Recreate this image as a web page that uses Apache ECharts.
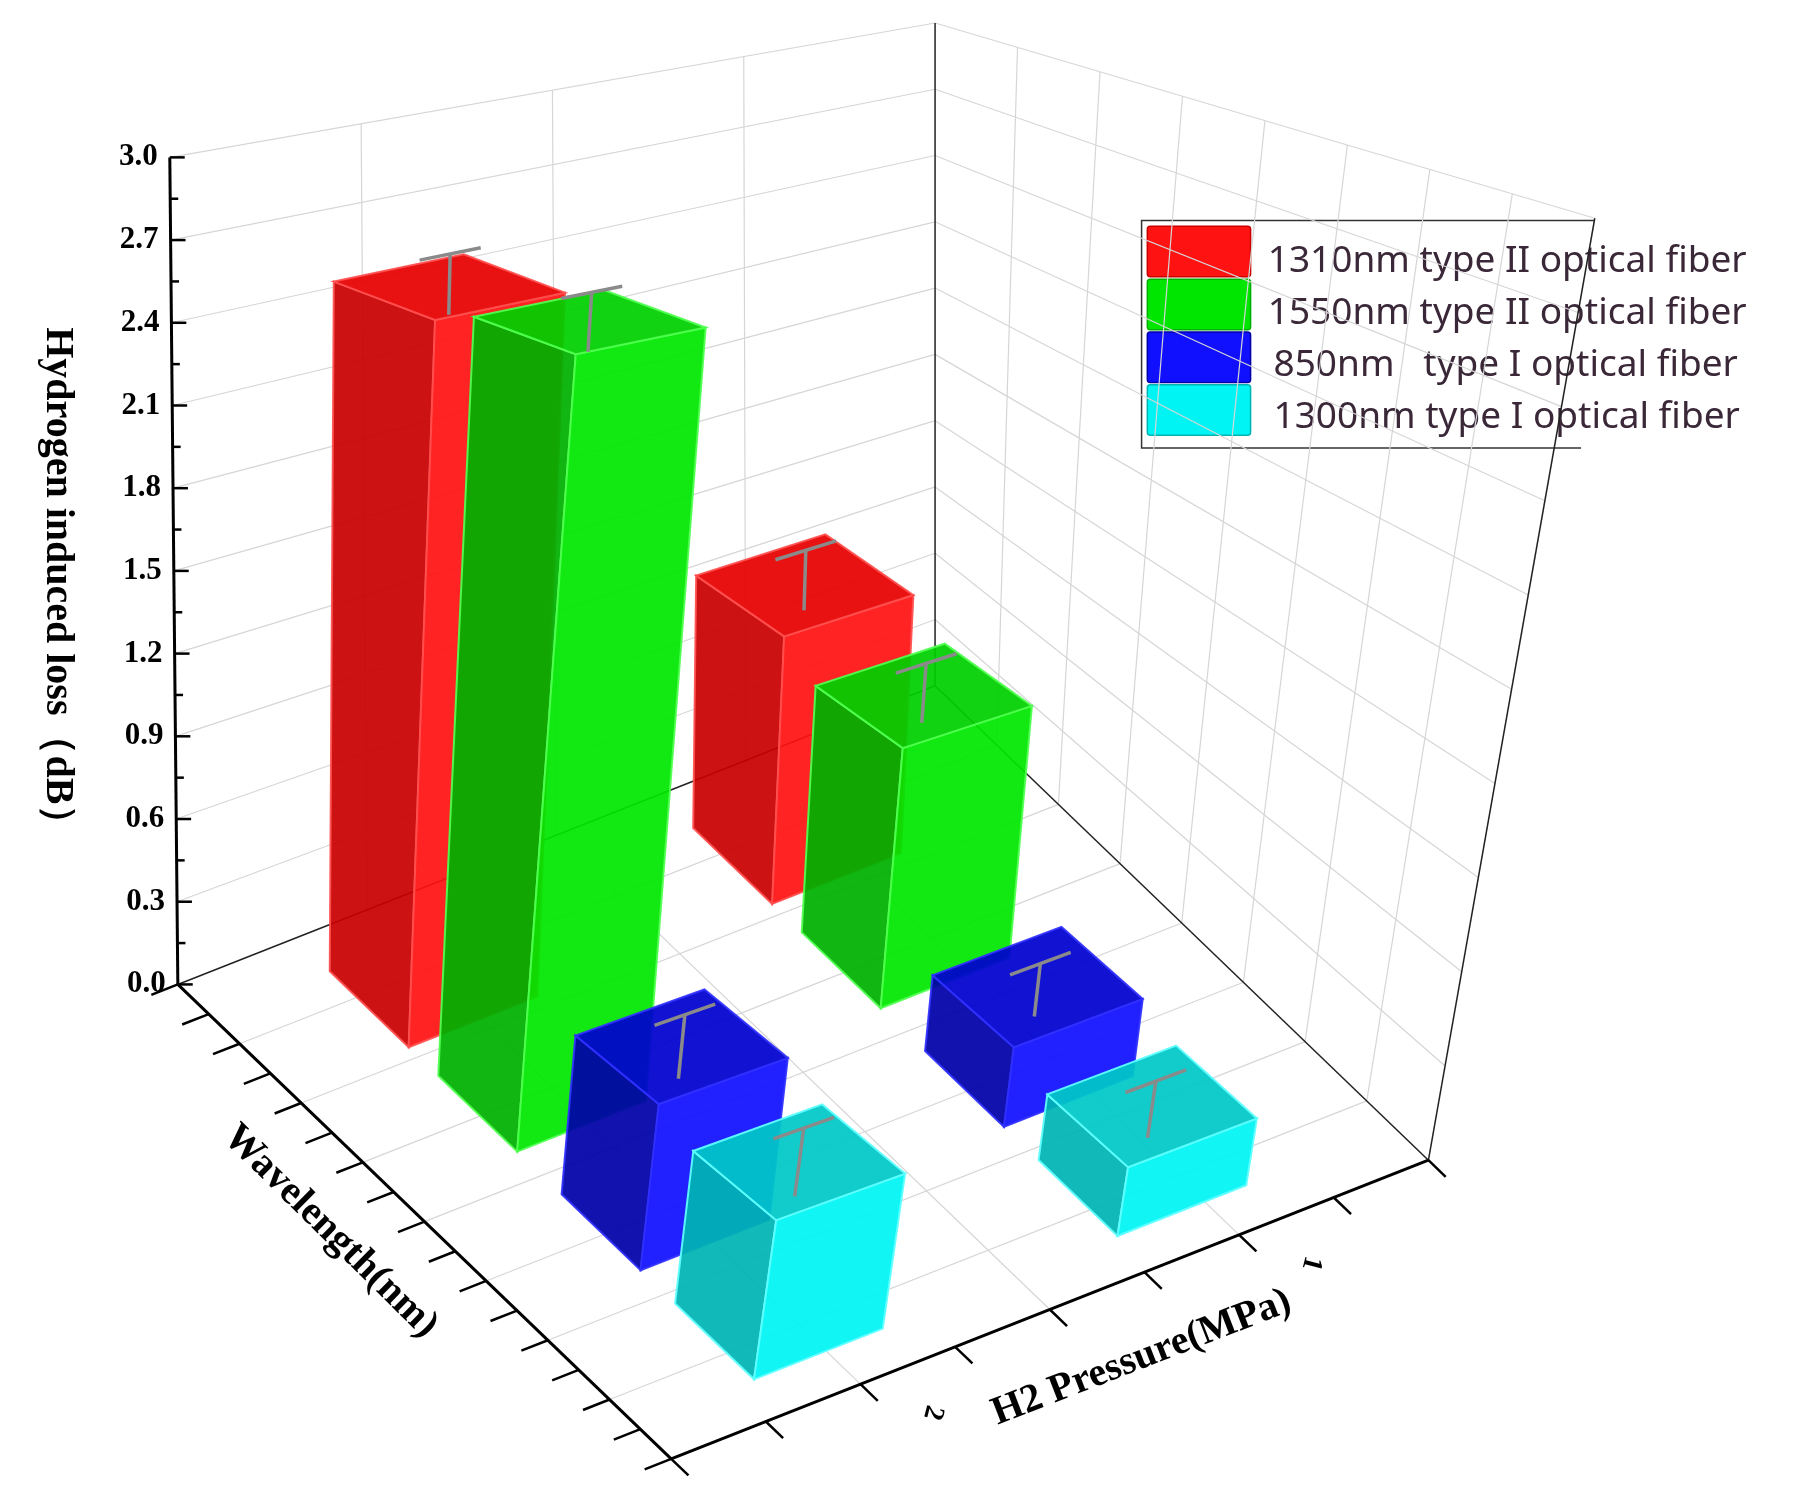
<!DOCTYPE html>
<html lang="en">
<head>
    <meta charset="UTF-8">
    <title>Hydrogen induced loss</title>
    <script src="https://cdn.jsdelivr.net/npm/echarts@6/dist/echarts.min.js"></script>
</head>
<body style="margin:0;background:#fff">
<div style="width:1799px;height:1491px" id="picture"></div>
<script>
    // data
    var fibers = ['1310nm type II optical fiber', '1550nm type II optical fiber', '850nm   type I optical fiber', '1300nm type I optical fiber'];
    var pressures = ['2', '1'];
    var loss2MPa = [2.52, 2.58, 0.50, 0.45];
    var loss1MPa = [1.02, 0.92, 0.26, 0.21];
    var err2MPa = [0.12, 0.10, 0.10, 0.10];
    var err1MPa = [0.14, 0.12, 0.08, 0.08];
    var yTicks = ['0.0', '0.3', '0.6', '0.9', '1.2', '1.5', '1.8', '2.1', '2.4', '2.7', '3.0'];

    // drawing space (reference pixel space) and box corners
    var W = 1568, H = 1298;
    var sx = 1799 / W, sy = 1491 / H;
    var floorA = [155, 857], floorB = [815, 597], floorC = [1245, 1010], floorD = [585, 1270];
    var topA = [148, 137], topB = [815, 20], topC = [1390, 190], topD = [723, 307];
    var uPos = [0.15, 0.37, 0.62, 0.85];
    var vPos = [0.24, 0.72];
    var colors = [
        {side: '#c80000', front: '#ff1212', top: '#e60000', edge: '#ff5050'},
        {side: '#00b000', front: '#00e600', top: '#00d000', edge: '#50ff50'},
        {side: '#0000a8', front: '#1010ff', top: '#0000d0', edge: '#3030ff'},
        {side: '#00b4b4', front: '#00f4f4', top: '#00c8c8', edge: '#60ffff'}
    ];

    function bil(P, u, v) {
        return [
            P[0][0] * (1 - u) * (1 - v) + P[1][0] * (1 - u) * v + P[2][0] * u * v + P[3][0] * u * (1 - v),
            P[0][1] * (1 - u) * (1 - v) + P[1][1] * (1 - u) * v + P[2][1] * u * v + P[3][1] * u * (1 - v)
        ];
    }
    function proj(u, v, w) {
        var f = bil([floorA, floorB, floorC, floorD], u, v);
        var t = bil([topA, topB, topC, topD], u, v);
        return [f[0] + (t[0] - f[0]) * w / 3, f[1] + (t[1] - f[1]) * w / 3];
    }

    var barData = [];
    for (var p = 0; p < pressures.length; p++) {
        for (var c = 0; c < fibers.length; c++) {
            var vals = p === 0 ? loss2MPa : loss1MPa;
            var errs = p === 0 ? err2MPa : err1MPa;
            barData.push([c, p, vals[c], errs[c]]);
        }
    }
    barData.sort(function (a, b) {
        return (uPos[a[0]] - vPos[a[1]]) - (uPos[b[0]] - vPos[b[1]]);
    });

    function line(api, a, b, color, width) {
        var p1 = api.coord(a), p2 = api.coord(b);
        return {type: 'line', shape: {x1: p1[0], y1: p1[1], x2: p2[0], y2: p2[1]},
            style: {stroke: color, lineWidth: width}};
    }

    function renderFrame(params, api) {
        var ch = [];
        var g = '#d6d6d6';
        var k;
        // left wall u = 0
        for (k = 1; k < 4; k++) ch.push(line(api, proj(0, k / 4, 0), proj(0, k / 4, 3), g, 1.2));
        for (k = 1; k <= 10; k++) ch.push(line(api, proj(0, 0, k * 0.3), proj(0, 1, k * 0.3), g, 1.2));
        // right wall v = 1
        for (k = 1; k < 8; k++) ch.push(line(api, proj(k / 8, 1, 0), proj(k / 8, 1, 3), g, 1.2));
        for (k = 1; k <= 10; k++) ch.push(line(api, proj(0, 1, k * 0.3), proj(1, 1, k * 0.3), g, 1.2));
        // floor
        for (k = 1; k < 8; k++) ch.push(line(api, proj(k / 8, 0, 0), proj(k / 8, 1, 0), g, 1.2));
        for (k = 1; k < 4; k++) ch.push(line(api, proj(0, k / 4, 0), proj(1, k / 4, 0), g, 1.2));
        // box edges
        ch.push(line(api, proj(0, 0, 0), proj(0, 1, 0), '#222', 1.5));
        ch.push(line(api, proj(0, 1, 0), proj(1, 1, 0), '#222', 1.5));
        ch.push(line(api, proj(0, 1, 0), proj(0, 1, 3), '#222', 1.5));
        ch.push(line(api, proj(1, 1, 0), proj(1, 1, 3), '#222', 1.5));
        // main axes
        ch.push(line(api, proj(0, 0, 0), proj(0, 0, 3), '#000', 3));
        ch.push(line(api, proj(0, 0, 0), proj(1, 0, 0), '#000', 3));
        ch.push(line(api, proj(1, 0, 0), proj(1, 1, 0), '#000', 3));
        // vertical ticks
        for (k = 0; k <= 20; k++) {
            var a = proj(0, 0, k * 0.15);
            ch.push(line(api, a, [a[0] + (k % 2 ? 7 : 13), a[1]], '#000', 2.5));
        }
        for (k = 0; k < yTicks.length; k++) {
            var q = api.coord(proj(0, 0, k * 0.3));
            ch.push({type: 'text', x: q[0] - 12, y: q[1], style: {text: yTicks[k], align: 'right', verticalAlign: 'middle',
                font: 'bold 31px "Liberation Serif"', fill: '#000'}});
        }
        // wavelength ticks
        for (k = 0; k <= 16; k++) ch.push(line(api, proj(k / 16, 0, 0), proj(k / 16, -0.035, 0), '#000', 2.5));
        // pressure ticks
        for (k = 0; k <= 8; k++) ch.push(line(api, proj(1, k / 8, 0), proj(1.035, k / 8, 0), '#000', 2.5));
        for (k = 0; k < pressures.length; k++) {
            var t = api.coord(proj(1.085, k === 0 ? 0.29 : 0.79, 0));
            ch.push({type: 'text', x: t[0], y: t[1], rotation: -Math.PI * 0.58,
                style: {text: pressures[k], align: 'center', verticalAlign: 'middle', font: 'bold 28px "Liberation Serif"', fill: '#000'}});
        }
        return {type: 'group', children: ch};
    }

    function renderBar(params, api) {
        var c = api.value(0), p = api.value(1), h = api.value(2), e = api.value(3);
        var u0 = uPos[c] - 0.08, u1 = uPos[c] + 0.08, v0 = vPos[p] - 0.085, v1 = vPos[p] + 0.085;
        var col = colors[c];
        function poly(pts, fill) {
            return {type: 'polygon', shape: {points: pts.map(function (x) { return api.coord(proj(x[0], x[1], x[2])); })},
                style: {fill: fill, stroke: col.edge, lineWidth: 2, opacity: 0.93}};
        }
        var uc = uPos[c], vc = vPos[p];
        return {type: 'group', children: [
            poly([[u0, v0, 0], [u1, v0, 0], [u1, v0, h], [u0, v0, h]], col.side),
            poly([[u1, v0, 0], [u1, v1, 0], [u1, v1, h], [u1, v0, h]], col.front),
            poly([[u0, v0, h], [u1, v0, h], [u1, v1, h], [u0, v1, h]], col.top),
            line(api, proj(uc, vc, h - 0.1), proj(uc, vc, h + e), '#8a8a8a', 3.5),
            line(api, proj(uc, vc - 0.04, h + e), proj(uc, vc + 0.04, h + e), '#8a8a8a', 3.5)
        ]};
    }

    var legendItems = [];
    for (var i = 0; i < fibers.length; i++) {
        legendItems.push({type: 'rect', shape: {x: 1000 * sx, y: (197 + i * 46) * sy, width: 90 * sx, height: 44 * sy, r: 3},
            style: {fill: colors[i].front, stroke: colors[i].side, lineWidth: 1.5}});
        legendItems.push({type: 'text', x: (i === 2 || i === 3 ? 1110 : 1105) * sx, y: (228 + i * 45) * sy,
            style: {text: fibers[i], verticalAlign: 'middle', font: '37px "Noto Sans"', fill: '#3a2838'}});
    }
    legendItems.push({type: 'polyline', shape: {points: [[1390 * sx, 192 * sy], [995 * sx, 192 * sy], [995 * sx, 390 * sy], [1378 * sx, 390 * sy]]},
        style: {stroke: '#333', lineWidth: 1.5, fill: null}});

    var myChart = echarts.init(document.getElementById('picture'));
    var option = {
        animation: false,
        backgroundColor: '#fff',
        grid: {left: 0, right: 0, top: 0, bottom: 0},
        xAxis: {type: 'value', min: 0, max: W, show: false},
        yAxis: {type: 'value', min: 0, max: H, inverse: true, show: false},
        graphic: legendItems.concat([
            {type: 'text', x: 50 * sx, y: 510 * sy, rotation: -Math.PI / 2,
                style: {text: 'Hydrogen induced loss（dB）', align: 'center', verticalAlign: 'middle', font: 'bold 40px "Liberation Serif"', fill: '#000'}},
            {type: 'text', x: 288 * sx, y: 1072 * sy, rotation: -0.78,
                style: {text: 'Wavelength(nm)', align: 'center', verticalAlign: 'middle', font: 'bold 40px "Liberation Serif"', fill: '#000'}},
            {type: 'text', x: 995 * sx, y: 1182 * sy, rotation: 0.37,
                style: {text: 'H2 Pressure(MPa)', align: 'center', verticalAlign: 'middle', font: 'bold 40px "Liberation Serif"', fill: '#000'}}
        ]),
        series: [
            {type: 'custom', renderItem: renderFrame, data: [[0]], silent: true, z: 1},
            {type: 'custom', renderItem: renderBar, data: barData, silent: true, z: 2}
        ]
    };
    myChart.setOption(option);
</script>
</body>
</html>
